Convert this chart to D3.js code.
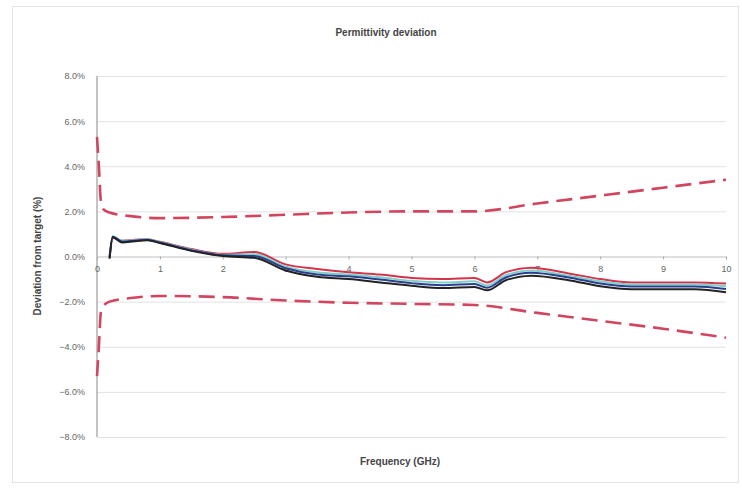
<!DOCTYPE html>
<html>
<head>
<meta charset="utf-8">
<title>Permittivity deviation</title>
<script src="https://d3js.org/d3.v7.min.js"></script>
<style>
  body { margin: 0; background: #fff; }
  svg { font-family: "Liberation Sans", Arial, sans-serif; }
  .grid line { stroke: #e2e2e2; }
  .grid path { display: none; }
  .tick text { fill: #666; font-size: 9px; }
</style>
</head>
<body>
<script>
// frequencies (GHz) of the measured traces
const freq = [0.2, 0.25, 0.4, 0.6, 0.8, 1.0, 1.5, 2.0, 2.5, 3.0, 3.5, 4.0, 4.5, 5.0, 5.5, 6.0, 6.2, 6.5, 6.9, 7.5, 8.0, 8.5, 9.0, 9.5, 10.0];
const blackVals = [-0.1, 0.85, 0.62, 0.68, 0.72, 0.6, 0.25, 0.02, -0.06, -0.62, -0.9, -1.0, -1.15, -1.3, -1.4, -1.35, -1.5, -1.05, -0.85, -1.05, -1.32, -1.45, -1.45, -1.45, -1.58];
const blueVals  = [-0.05, 0.88, 0.66, 0.7, 0.74, 0.62, 0.28, 0.05, 0.02, -0.52, -0.8, -0.88, -1.02, -1.18, -1.27, -1.22, -1.38, -0.93, -0.72, -0.93, -1.2, -1.33, -1.33, -1.33, -1.44];
const tealVals  = [-0.02, 0.9, 0.7, 0.72, 0.76, 0.64, 0.3, 0.08, 0.1, -0.45, -0.7, -0.8, -0.92, -1.08, -1.15, -1.1, -1.28, -0.83, -0.62, -0.85, -1.1, -1.24, -1.24, -1.24, -1.32];
const redVals   = [0.0, 0.82, 0.7, 0.74, 0.76, 0.65, 0.33, 0.12, 0.2, -0.35, -0.55, -0.7, -0.8, -0.95, -1.0, -0.95, -1.15, -0.7, -0.5, -0.75, -1.0, -1.15, -1.15, -1.15, -1.2];

// tolerance limits
const limitFreq = [0, 0.03, 0.06, 0.1, 0.2, 0.5, 1, 2, 3, 4, 5, 6, 7, 8, 9, 10];
const upperLimit = [5.3, 4.0, 2.5, 2.1, 1.95, 1.8, 1.7, 1.75, 1.85, 1.95, 2.0, 2.0, 2.35, 2.7, 3.05, 3.4];
const lowerLimit = [-5.3, -4.0, -2.5, -2.2, -2.0, -1.85, -1.75, -1.8, -1.95, -2.05, -2.1, -2.15, -2.5, -2.85, -3.2, -3.6];

const xTicks = [0, 1, 2, 3, 4, 5, 6, 7, 8, 9, 10];
const yTicks = [-8, -6, -4, -2, 0, 2, 4, 6, 8];

const width = 742, height = 488;
const margin = {left: 97, right: 13, top: 76, bottom: 51};

const svg = d3.select("body").append("svg")
  .attr("width", width)
  .attr("height", height);

// faint outer frame like the scanned original
svg.append("rect")
  .attr("x", 12.5).attr("y", 6.5)
  .attr("width", 726).attr("height", 476)
  .attr("fill", "none")
  .attr("stroke", "#e4e4e4");

const x = d3.scaleLinear().domain([0, 10]).range([margin.left, width - margin.right - 3]);
const y = d3.scaleLinear().domain([-8, 8]).range([height - margin.bottom, margin.top]);

// horizontal gridlines + y labels
svg.append("g")
  .attr("class", "grid")
  .attr("transform", `translate(${margin.left},0)`)
  .call(d3.axisLeft(y).tickValues(yTicks)
    .tickSize(-(x(10) - x(0)))
    .tickPadding(12)
    .tickFormat(d => d3.format(".1f")(d) + "%"))
  .call(g => g.selectAll(".tick text").attr("dx", 0));

// left axis line
svg.append("line")
  .attr("x1", x(0)).attr("x2", x(0))
  .attr("y1", y(8)).attr("y2", y(-8))
  .attr("stroke", "#888");

// x axis along zero
svg.append("g")
  .attr("transform", `translate(0,${y(0)})`)
  .call(d3.axisBottom(x).tickValues(xTicks).tickSize(3).tickPadding(6))
  .call(g => g.select(".domain").attr("stroke", "#ccc"))
  .call(g => g.selectAll(".tick line").attr("stroke", "#aaa"));

const line = (fs, vs) => d3.line()
  .x((d, i) => x(fs[i]))
  .y(d => y(d))
  .curve(d3.curveMonotoneX)(vs);

// limits
[upperLimit, lowerLimit].forEach(vs => {
  svg.append("path")
    .attr("d", line(limitFreq, vs))
    .attr("fill", "none")
    .attr("stroke", "#d2455f")
    .attr("stroke-width", 2.6)
    .attr("stroke-dasharray", "16,8");
});

// traces
const traces = [
  {vals: redVals, color: "#d6334a"},
  {vals: tealVals, color: "#7fd0c8"},
  {vals: blueVals, color: "#2a3f8f"},
  {vals: blackVals, color: "#222"}
];
traces.forEach(t => {
  svg.append("path")
    .attr("d", line(freq, t.vals))
    .attr("fill", "none")
    .attr("stroke", t.color)
    .attr("stroke-width", 2);
});

// titles
svg.append("text")
  .attr("x", 386).attr("y", 36)
  .attr("text-anchor", "middle")
  .attr("font-size", 10).attr("font-weight", "bold").attr("fill", "#444")
  .text("Permittivity deviation");

svg.append("text")
  .attr("x", 400).attr("y", 465)
  .attr("text-anchor", "middle")
  .attr("font-size", 10).attr("font-weight", "bold").attr("fill", "#444")
  .text("Frequency (GHz)");

svg.append("text")
  .attr("transform", "translate(41,256) rotate(-90)")
  .attr("text-anchor", "middle")
  .attr("font-size", 10).attr("font-weight", "bold").attr("fill", "#444")
  .text("Deviation from target (%)");
</script>
</body>
</html>
